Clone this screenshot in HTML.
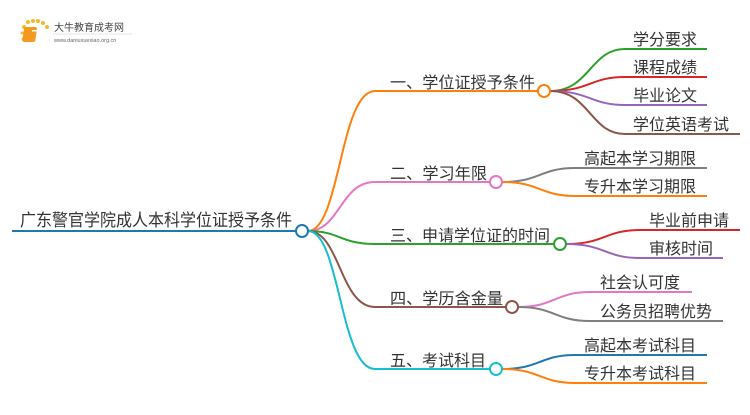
<!DOCTYPE html>
<html><head><meta charset="utf-8"><style>
html,body{margin:0;padding:0;background:#fff;}
svg text{font-family:"Liberation Sans","Noto Sans CJK SC",sans-serif;fill:#333;}
</style></head><body>
<svg width="750" height="410" viewBox="0 0 750 410" xmlns="http://www.w3.org/2000/svg">
<!-- logo -->
<g>
<circle cx="24" cy="27" r="2" fill="#f5b928"/><circle cx="28" cy="22" r="2" fill="#f5b928"/><circle cx="33" cy="21" r="2" fill="#f5b928"/><circle cx="38" cy="21" r="2" fill="#f5b928"/><circle cx="43" cy="23" r="2" fill="#f5b928"/><circle cx="47" cy="27" r="2" fill="#f5b928"/><circle cx="22" cy="33" r="1.5" fill="#f5b928"/><circle cx="23" cy="39" r="1.5" fill="#f5b928"/>
<rect x="28" y="27" width="13" height="15" rx="2" fill="#f29a1f" transform="skewX(-8)"/>
<rect x="32" y="30" width="7" height="1.5" fill="#fff"/>
<text x="54" y="31" font-size="10" style="fill:#444">大牛教育成考网</text>
<line x1="53" y1="34" x2="132" y2="34" stroke="#ddd" stroke-width="0.7"/>
<text x="54" y="42" font-size="5.5" style="fill:#666">www.daniuxuexiao.org.cn</text>
</g>
<g fill="none" stroke-width="2">
<!-- root -->
<line x1="12" y1="231" x2="296" y2="231" stroke="#1f77b4"/>
<!-- branches -->
<path d="M308 231 C340 231,340 91,375 91 L538 91" stroke="#ff7f0e"/>
<path d="M308 231 C340 231,340 182,375 182 L490 182" stroke="#e377c2"/>
<path d="M308 231 C340 231,340 244,375 244 L554 244" stroke="#2ca02c"/>
<path d="M308 231 C340 231,340 307,375 307 L506 307" stroke="#8c564b"/>
<path d="M308 231 C340 231,340 369,375 369 L490 369" stroke="#17becf"/>
<!-- b1 children -->
<path d="M550 91 C590 91,590 49,625 49 L707 49" stroke="#2ca02c"/>
<path d="M550 91 C590 91,590 77,625 77 L707 77" stroke="#d62728"/>
<path d="M550 91 C590 91,590 105,625 105 L707 105" stroke="#9467bd"/>
<path d="M550 91 C590 91,590 134,625 134 L740 134" stroke="#8c564b"/>
<!-- b2 -->
<path d="M502 182 C540 182,540 168,575 168 L707 168" stroke="#7f7f7f"/>
<path d="M502 182 C540 182,540 196,575 196 L707 196" stroke="#ff7f0e"/>
<!-- b3 -->
<path d="M566 244 C605 244,605 230,640 230 L740 230" stroke="#d62728"/>
<path d="M566 244 C605 244,605 258,640 258 L723 258" stroke="#9467bd"/>
<!-- b4 -->
<path d="M518 307 C555 307,555 292,590 292 L692 292" stroke="#e377c2"/>
<path d="M518 307 C555 307,555 321,590 321 L723 321" stroke="#7f7f7f"/>
<!-- b5 -->
<path d="M502 369 C540 369,540 355,575 355 L707 355" stroke="#1f77b4"/>
<path d="M502 369 C540 369,540 383,575 383 L707 383" stroke="#ff7f0e"/>
</g>
<g fill="#fff" stroke-width="2">
<circle cx="302" cy="231" r="6" stroke="#1f77b4"/>
<circle cx="544" cy="91" r="6" stroke="#ff7f0e"/>
<circle cx="496" cy="182" r="6" stroke="#e377c2"/>
<circle cx="560" cy="244" r="6" stroke="#2ca02c"/>
<circle cx="512" cy="307" r="6" stroke="#8c564b"/>
<circle cx="496" cy="369" r="6" stroke="#17becf"/>
</g>
<text x="20" y="226" font-size="17" textLength="272" lengthAdjust="spacingAndGlyphs">广东警官学院成人本科学位证授予条件</text>
<g font-size="16">
<text x="390" y="88" textLength="145" lengthAdjust="spacingAndGlyphs">一、学位证授予条件</text>
<text x="390" y="179" textLength="97" lengthAdjust="spacingAndGlyphs">二、学习年限</text>
<text x="390" y="241" textLength="160" lengthAdjust="spacingAndGlyphs">三、申请学位证的时间</text>
<text x="390" y="304" textLength="113" lengthAdjust="spacingAndGlyphs">四、学历含金量</text>
<text x="390" y="366" textLength="96" lengthAdjust="spacingAndGlyphs">五、考试科目</text>
<text x="633" y="45">学分要求</text>
<text x="633" y="73">课程成绩</text>
<text x="633" y="101">毕业论文</text>
<text x="633" y="130">学位英语考试</text>
<text x="584" y="164">高起本学习期限</text>
<text x="584" y="192">专升本学习期限</text>
<text x="649" y="226">毕业前申请</text>
<text x="649" y="254">审核时间</text>
<text x="600" y="288">社会认可度</text>
<text x="600" y="317">公务员招聘优势</text>
<text x="584" y="351">高起本考试科目</text>
<text x="584" y="379">专升本考试科目</text>
</g>
</svg>
</body></html>
